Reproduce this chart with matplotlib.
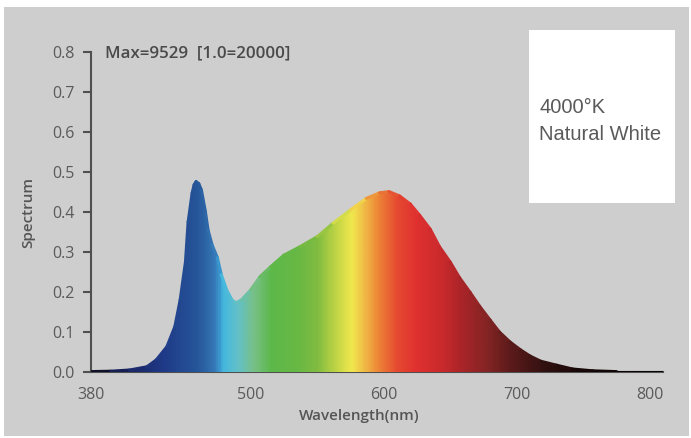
import numpy as np
import matplotlib
matplotlib.use("Agg")
import matplotlib.pyplot as plt
from matplotlib.colors import LinearSegmentedColormap
from matplotlib.patches import Rectangle
from matplotlib.collections import LineCollection

# ---- data ----
wavelength = [380, 395, 409, 422, 429, 437, 443, 447, 451, 453, 456, 457.5, 459, 461, 463, 466, 468,
              471, 475, 478, 482, 486, 489, 493, 500, 507, 515, 525, 537, 550, 562, 575,
              587, 597, 604, 612, 620, 627, 635, 642, 650, 657, 665, 672, 680, 687, 695,
              703, 710, 718, 730, 742, 757, 775, 790, 810]
spectrum = [0.001, 0.002, 0.005, 0.013, 0.030, 0.063, 0.113, 0.180, 0.275, 0.375, 0.447, 0.468, 0.476, 0.471, 0.455,
            0.401, 0.355, 0.318, 0.286, 0.243, 0.205, 0.180, 0.173, 0.180, 0.205, 0.238,
            0.263, 0.292, 0.313, 0.338, 0.372, 0.405, 0.434, 0.448, 0.451, 0.440, 0.420,
            0.392, 0.357, 0.313, 0.275, 0.236, 0.199, 0.165, 0.130, 0.100, 0.075, 0.055,
            0.040, 0.027, 0.017, 0.0075, 0.003, 0.001, 0.001, 0.001]
x_ticks = [380, 500, 600, 700, 800]
y_ticks = [0.0, 0.1, 0.2, 0.3, 0.4, 0.5, 0.6, 0.7, 0.8]
annotation = "Max=9529  [1.0=20000]"
box_lines = ["4000°K", "Natural White"]
x_label = "Wavelength(nm)"
y_label = "Spectrum"

# gradient colour stops (wavelength, colour)
grad_nm = [380, 405, 434, 460, 472, 476, 478.5, 490, 502, 515, 535, 550, 565, 576,
           584.5, 595, 610, 625, 645, 660, 680, 697, 723, 748, 810]
grad_col = ['#0a0a14', '#18235e', '#1f3a88', '#26579a', '#3576b5', '#3a95cc', '#44b8df',
            '#62c0c8', '#78c088', '#5db84a', '#68b845', '#80bc40', '#c4d646', '#f0e84e',
            '#f0c048', '#ee8a38', '#e54a30', '#e03030', '#c82a2c', '#a82428', '#802424',
            '#5a1a1a', '#301010', '#180808', '#050303']

XMIN, XMAX = 380, 810
YMIN, YMAX = 0.0, 0.8

cmap = LinearSegmentedColormap.from_list(
    "spec", [((n - XMIN) / (XMAX - XMIN), c) for n, c in zip(grad_nm, grad_col)])

W, H = 691, 438
fig = plt.figure(figsize=(W / 100, H / 100), dpi=100)
fig.patch.set_facecolor('white')

# gray panel
fig.patches.append(Rectangle((4 / W, 1 - 436 / H), 685 / W, 429 / H,
                             transform=fig.transFigure, facecolor='#cecece',
                             edgecolor='none', zorder=-1))

ax = fig.add_axes([91 / W, 1 - 372 / H, 572 / W, 320 / H])
ax.set_facecolor('none')

poly = ax.fill_between(wavelength, spectrum, 0, facecolor='none', edgecolor='none')
grad = np.linspace(XMIN, XMAX, 800).reshape(1, -1)
im = ax.imshow(grad, cmap=cmap, extent=[XMIN, XMAX, YMIN, YMAX], aspect='auto',
               origin='lower', vmin=XMIN, vmax=XMAX, zorder=2)
im.set_clip_path(poly.get_paths()[0], transform=ax.transData)

pts = np.column_stack([wavelength, spectrum]).reshape(-1, 1, 2)
segs = np.concatenate([pts[:-1], pts[1:]], axis=1)
lc = LineCollection(segs, cmap=cmap, norm=plt.Normalize(XMIN, XMAX), linewidth=2.2,
                    zorder=3, capstyle='round', joinstyle='round')
lc.set_array(np.array([(a + b) / 2 for a, b in zip(wavelength[:-1], wavelength[1:])]))
ax.add_collection(lc)

ax.set_xlim(XMIN, XMAX)
ax.set_ylim(YMIN, YMAX)

for s in ['top', 'right']:
    ax.spines[s].set_visible(False)
for s in ['left', 'bottom']:
    ax.spines[s].set_color('#505050')
    ax.spines[s].set_linewidth(1.5)
ax.spines['bottom'].set_zorder(1)

font = 'Open Sans'
ax.set_xticks(x_ticks)
ax.set_yticks(y_ticks)
ax.set_yticklabels([f"{v:.1f}" for v in y_ticks])
ax.tick_params(axis='y', direction='out', length=6, width=1.5, color='#505050',
               labelcolor='#5a5a5a', labelsize=11.5, pad=6)
ax.tick_params(axis='x', length=0, labelcolor='#5a5a5a', labelsize=11.5, pad=11)
for lab in ax.get_xticklabels() + ax.get_yticklabels():
    lab.set_fontfamily(font)

ax.set_xlabel(x_label, fontfamily=font, fontsize=11, fontweight='semibold', color='#555555')
ax.xaxis.set_label_coords(0.4685, -0.115)
ax.set_ylabel(y_label, fontfamily=font, fontsize=11, fontweight='semibold', color='#555555')
ax.yaxis.set_label_coords(-0.098, 0.5)

ax.text(0.0245, 0.994, annotation, transform=ax.transAxes, ha='left', va='center',
        fontfamily=font, fontsize=12.2, fontweight='semibold', color='#4a4a4a')

# white box
fig.patches.append(Rectangle((529 / W, 1 - 203 / H), 146 / W, 173 / H,
                             transform=fig.transFigure, facecolor='white',
                             edgecolor='none', zorder=5))
fig.text(539 / W, 1 - 113.3 / H, box_lines[0], ha='left', va='baseline',
         fontfamily='Liberation Sans', fontsize=14.5, color='#5a5a5a', zorder=6)
fig.text(539 / W, 1 - 140 / H, box_lines[1], ha='left', va='baseline',
         fontfamily='Liberation Sans', fontsize=14.5, color='#5a5a5a', zorder=6)

fig.savefig("out.png", dpi=100, facecolor=fig.get_facecolor())
